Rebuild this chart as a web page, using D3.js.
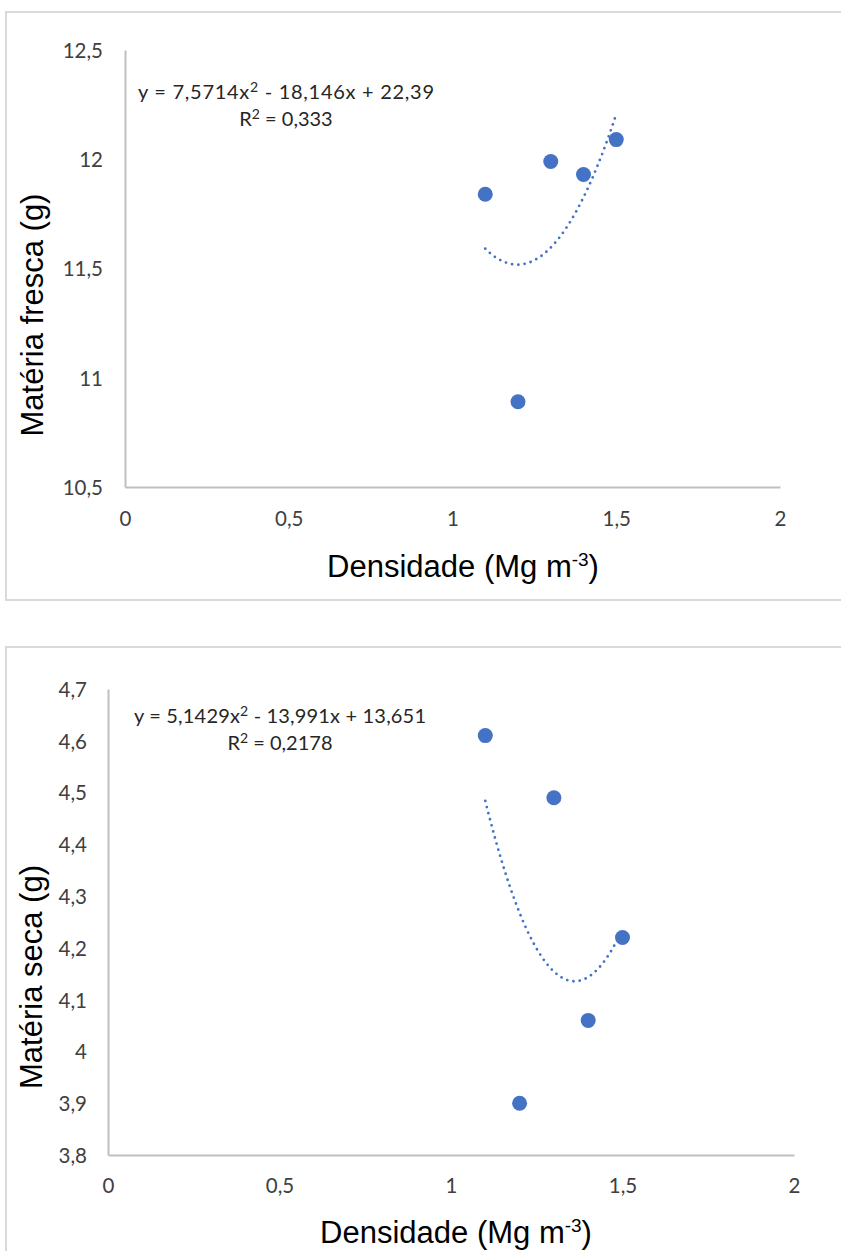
<!DOCTYPE html>
<html>
<head>
<meta charset="utf-8">
<script src="https://cdn.jsdelivr.net/npm/d3@7"></script>
<style>
  html, body { margin: 0; padding: 0; background: #fff; }
  svg { display: block; }
</style>
</head>
<body>
<script>
// ---- data ----
const densidade = [1.1, 1.2, 1.3, 1.4, 1.5];
const materiaFresca = [11.84, 10.89, 11.99, 11.93, 12.09];
const materiaSeca = [4.61, 3.90, 4.49, 4.06, 4.22];
const coefFresca = [7.5714, -18.146, 22.39];
const coefSeca = [5.1429, -13.991, 13.651];
const r2Fresca = "0,333";
const r2Seca = "0,2178";
const xTicks = [0, 0.5, 1, 1.5, 2];
const yTicksFresca = [10.5, 11, 11.5, 12, 12.5];
const yTicksSeca = [3.8, 3.9, 4, 4.1, 4.2, 4.3, 4.4, 4.5, 4.6, 4.7];
const xTitle = "Densidade (Mg m";
const yTitleFresca = "Matéria fresca (g)";
const yTitleSeca = "Matéria seca (g)";

const W = 841, H = 1251;
const BLUE = "#4472C4";
const fmt = v => String(+v.toFixed(2)).replace(".", ",");
const numFmt = v => String(Math.abs(v)).replace(".", ",");
const EQ_FONT = "Lato, 'Open Sans', sans-serif";

const svg = d3.select("body").append("svg").attr("width", W).attr("height", H);

function drawChart(cfg) {
  const g = svg.append("g");
  // frame
  g.append("rect").attr("x", cfg.frame[0]).attr("y", cfg.frame[1])
    .attr("width", cfg.frame[2]).attr("height", cfg.frame[3])
    .attr("fill", "none").attr("stroke", "#d9d9d9").attr("stroke-width", 2);

  const x = d3.scaleLinear().domain([0, 2]).range([cfg.x0, cfg.x1]);
  const y = d3.scaleLinear().domain(cfg.yDomain).range([cfg.yBottom, cfg.yTop]);

  const xAxis = g.append("g").attr("transform", `translate(0,${cfg.yBottom})`)
    .call(d3.axisBottom(x).tickValues(xTicks).tickFormat(fmt).tickSize(0).tickSizeOuter(0).tickPadding(cfg.xPad));
  const yAxis = g.append("g").attr("transform", `translate(${cfg.x0},0)`)
    .call(d3.axisLeft(y).tickValues(cfg.yTicks).tickFormat(fmt).tickSize(0).tickSizeOuter(0).tickPadding(cfg.yPad));
  [xAxis, yAxis].forEach(a => {
    a.select(".domain").attr("stroke", "#bfbfbf").attr("stroke-width", 2);
    a.selectAll("text").attr("font-family", EQ_FONT)
      .attr("font-size", 20.5).attr("fill", "#404040");
  });
  yAxis.selectAll("text").attr("dy", "0.36em");

  // trendline from displayed coefficients
  const [a, b, c] = cfg.coef;
  const xmin = d3.min(densidade), xmax = d3.max(densidade);
  const samples = d3.range(0, 101).map(i => xmin + (xmax - xmin) * i / 100);
  g.append("path")
    .datum(samples)
    .attr("d", d3.line().x(d => x(d)).y(d => y(a * d * d + b * d + c)))
    .attr("fill", "none").attr("stroke", BLUE).attr("stroke-width", 2.8)
    .attr("stroke-linecap", "round").attr("stroke-dasharray", "0 6.3");

  // points
  g.selectAll("circle.pt").data(densidade).enter().append("circle")
    .attr("class", "pt")
    .attr("cx", d => x(d)).attr("cy", (d, i) => y(cfg.values[i]))
    .attr("r", 7.5).attr("fill", BLUE);

  // equation
  const eq = g.append("text").attr("x", cfg.eqX).attr("y", cfg.eqY)
    .attr("text-anchor", "middle")
    .attr("font-family", EQ_FONT).attr("font-size", 20).attr("fill", "#262626");
  eq.append("tspan").text(`y = ${numFmt(a)}x`);
  eq.append("tspan").attr("dy", -7).attr("font-size", 14).text("2");
  eq.append("tspan").attr("dy", 7).text(` ${b < 0 ? "-" : "+"} ${numFmt(b)}x ${c < 0 ? "-" : "+"} ${numFmt(c)}`);
  // stretch spacing to the reference width
  const bb = eq.node().getComputedTextLength();
  if (bb < cfg.eqW) eq.attr("textLength", cfg.eqW).attr("lengthAdjust", "spacing");

  const r2 = g.append("text").attr("x", cfg.eqX).attr("y", cfg.eqY + 27)
    .attr("text-anchor", "middle")
    .attr("font-family", EQ_FONT).attr("font-size", 20).attr("fill", "#262626");
  r2.append("tspan").text("R");
  r2.append("tspan").attr("dy", -7).attr("font-size", 14).text("2");
  r2.append("tspan").attr("dy", 7).text(` = ${cfg.r2}`);

  // x title
  const xt = g.append("text").attr("x", cfg.xTitleX).attr("y", cfg.xTitleY)
    .attr("text-anchor", "middle")
    .attr("font-family", "'Liberation Sans', Arial, sans-serif").attr("font-size", 31).attr("fill", "#000");
  xt.append("tspan").text(xTitle);
  xt.append("tspan").attr("dy", -11).attr("font-size", 19).text("-3");
  xt.append("tspan").attr("dy", 11).text(")");

  // y title
  g.append("text")
    .attr("transform", `translate(${cfg.yTitleX},${cfg.yTitleY}) rotate(-90)`)
    .attr("text-anchor", "middle")
    .attr("font-family", "'Liberation Sans', Arial, sans-serif").attr("font-size", 31).attr("fill", "#000")
    .text(cfg.yTitle);
}

drawChart({
  frame: [6, 12, 850, 588],
  x0: 125, x1: 780, yTop: 50, yBottom: 487,
  yDomain: [10.5, 12.5], yTicks: yTicksFresca,
  xPad: 24, yPad: 22,
  values: materiaFresca, coef: coefFresca, r2: r2Fresca,
  eqX: 286, eqY: 99, eqW: 296,
  xTitleX: 463, xTitleY: 577,
  yTitleX: 43, yTitleY: 315, yTitle: yTitleFresca
});

drawChart({
  frame: [6, 647, 850, 640],
  x0: 108, x1: 794, yTop: 689, yBottom: 1155,
  yDomain: [3.8, 4.7], yTicks: yTicksSeca,
  xPad: 23, yPad: 21,
  values: materiaSeca, coef: coefSeca, r2: r2Seca,
  eqX: 280, eqY: 723, eqW: 292,
  xTitleX: 456, xTitleY: 1243,
  yTitleX: 42, yTitleY: 977, yTitle: yTitleSeca
});
</script>
</body>
</html>
